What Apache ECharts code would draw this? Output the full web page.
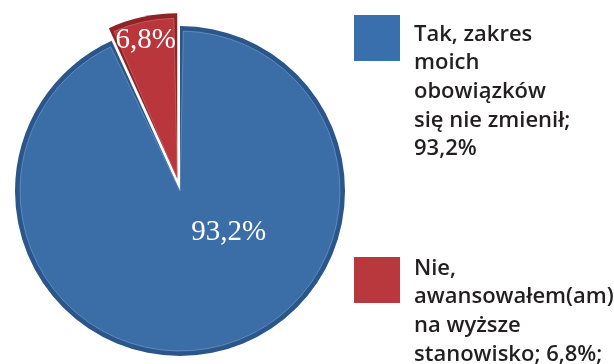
<!DOCTYPE html>
<html>
<head>
<meta charset="utf-8">
<script src="https://cdn.jsdelivr.net/npm/echarts@6/dist/echarts.min.js"></script>
<style>
  html, body { margin: 0; padding: 0; background: #ffffff; }
  #chart { width: 614px; height: 364px; }
</style>
</head>
<body>
<div id="chart"></div>
<script>
// Answers and their shares (%)
const categories = [
  'Tak, zakres moich obowiązków się nie zmienił',
  'Nie, awansowałem(am) na wyższe stanowisko'
];
const shares = [93.2, 6.8];

// Legend captions, one line per entry
const legendLines = [
  ['Tak, zakres', 'moich', 'obowiązków', 'się nie zmienił;', '93,2%'],
  ['Nie,', 'awansowałem(am)', 'na wyższe', 'stanowisko; 6,8%;']
];

const fillColors = ['#3b6ea6', '#b9363c'];
const rimColors = ['#2b568b', '#8e2328'];
const edgeLight = ['rgba(150,185,225,0.55)', 'rgba(230,140,140,0.55)'];
const swatchColors = ['#3a6fae', '#b8383d'];
const labelOffsets = [[31, -40], [-14, -57]];
const exploded = [false, true];

const CENTER = [180, 191];
const OUTER_R = 165;
const RIM = 5;
const EXPLODE = 13;

const fmt = v => v.toFixed(1).replace('.', ',') + '%';

// Dark rim underneath (outer bevel)
const rimData = categories.map((name, i) => ({
  name: name,
  value: shares[i],
  selected: exploded[i],
  itemStyle: { color: rimColors[i] },
  select: { itemStyle: { color: rimColors[i] } }
}));

// Lighter face on top
const faceData = categories.map((name, i) => {
  const style = { color: fillColors[i], borderColor: edgeLight[i], borderWidth: 0.8 };
  const label = { offset: labelOffsets[i] };
  return {
    name: name,
    value: shares[i],
    selected: exploded[i],
    itemStyle: style,
    label: label,
    select: { itemStyle: style, label: label }
  };
});

const chart = echarts.init(document.getElementById('chart'), null, { renderer: 'canvas' });

const swatchTops = [15, 257];
const textTops = [20, 254];

const commonPie = {
  type: 'pie',
  center: CENTER,
  startAngle: 90,
  clockwise: true,
  selectedMode: 'single',
  selectedOffset: EXPLODE,
  labelLine: { show: false },
  emphasis: { disabled: true }
};

chart.setOption({
  animation: false,
  backgroundColor: '#ffffff',
  legend: categories.map((name, i) => ({
    data: [name],
    left: 354,
    top: swatchTops[i],
    padding: 0,
    icon: 'rect',
    itemWidth: 46,
    itemHeight: 46,
    itemGap: 0,
    selectedMode: false,
    formatter: () => '',
    itemStyle: { color: swatchColors[i], borderWidth: 0 }
  })),
  graphic: legendLines.map((lines, i) => ({
    type: 'text',
    left: 414,
    top: textTops[i],
    silent: true,
    style: {
      text: lines.join('\n'),
      fill: '#231f20',
      font: '600 22px "Open Sans", sans-serif',
      lineHeight: 28.7
    }
  })),
  series: [
    Object.assign({}, commonPie, {
      name: 'rim',
      radius: OUTER_R,
      label: { show: false },
      data: rimData
    }),
    Object.assign({}, commonPie, {
      name: 'face',
      radius: OUTER_R - RIM,
      padAngle: 2.4,
      label: {
        show: true,
        position: 'inside',
        color: '#ffffff',
        fontFamily: '"Liberation Serif", serif',
        fontSize: 29,
        formatter: p => fmt(p.value)
      },
      data: faceData
    })
  ]
});
</script>
</body>
</html>
